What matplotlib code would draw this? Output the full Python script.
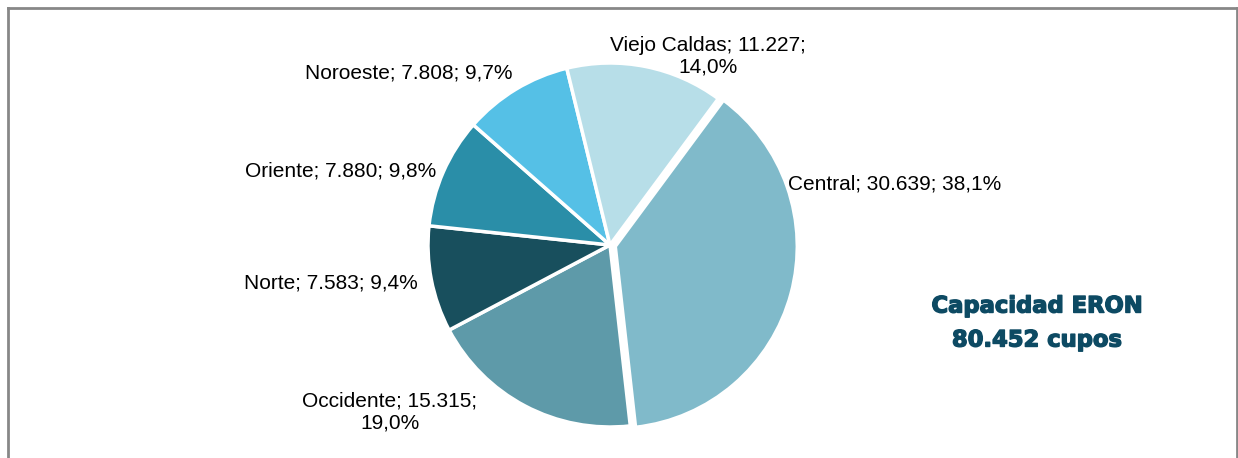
import matplotlib.pyplot as plt
import matplotlib.patheffects as pe
from matplotlib.lines import Line2D

# data
regions = ['Central', 'Occidente', 'Norte', 'Oriente', 'Noroeste', 'Viejo Caldas']
cupos = [30639, 15315, 7583, 7880, 7808, 11227]
colors = ['#80BACA', '#5E9AA9', '#184F5D', '#2A8EA8', '#55C0E6', '#B7DEE8']
explode = [0.03, 0, 0, 0, 0, 0]
total = sum(cupos)

plt.rcParams['font.family'] = ['Liberation Sans', 'DejaVu Sans']

fig = plt.figure(figsize=(12.38, 4.58), dpi=100)
ax = fig.add_axes([0, 0, 1, 1])

# pie centre at (610, 245) px, radius 182 px
R = 182.0
wedges, _ = ax.pie(cupos, colors=colors, explode=explode, startangle=53.5,
                   counterclock=False, radius=1.0,
                   wedgeprops=dict(edgecolor='white', linewidth=2.5))
ax.set_aspect('auto')
ax.set_xlim(-610 / R, (1238 - 610) / R)
ax.set_ylim(-(458 - 245) / R, 245 / R)
ax.axis('off')


def fmt_num(v):
    return f'{v:,}'.replace(',', '.')


def fmt_pct(v):
    return f'{100 * v / total:.1f}%'.replace('.', ',')


# label anchor positions in pixels (x, y from top) and alignment
label_px = {
    'Central': (788, 184, 'left'),
    'Occidente': (390, 412, 'center'),
    'Norte': (418, 283, 'right'),
    'Oriente': (436, 171, 'right'),
    'Noroeste': (513, 73, 'right'),
    'Viejo Caldas': (708, 56, 'center'),
}
two_line = {'Occidente', 'Viejo Caldas'}

for name, v in zip(regions, cupos):
    sep = ';\n' if name in two_line else '; '
    txt = f'{name}; {fmt_num(v)}{sep}{fmt_pct(v)}'
    px, py, ha = label_px[name]
    ax.text((px - 610) / R, (245 - py) / R, txt, ha=ha, va='center',
            fontsize=15, color='#000000', multialignment='center',
            linespacing=1.15)

W, H = 1238.0, 458.0
title_style = dict(ha='center', va='center', fontsize=16.3, fontweight='heavy',
                   color='#0D4A63', family='DejaVu Sans',
                   path_effects=[pe.withStroke(linewidth=1.0, foreground='#0D4A63')])
fig.text(1037 / W, 1 - 306 / H, 'Capacidad ERON', **title_style)
fig.text(1037 / W, 1 - 340 / H, fmt_num(total) + ' cupos', **title_style)

# grey frame (bottom edge cut off)
frame = dict(color='#878787', linewidth=2, transform=fig.transFigure)
fig.add_artist(Line2D([7.5 / W, 7.5 / W], [0, 1 - 7.5 / H], **frame))
fig.add_artist(Line2D([7.5 / W, 1236.5 / W], [1 - 7.5 / H, 1 - 7.5 / H], **frame))
fig.add_artist(Line2D([1236.5 / W, 1236.5 / W], [0, 1 - 7.5 / H], **frame))

fig.savefig('out.png', dpi=100)
